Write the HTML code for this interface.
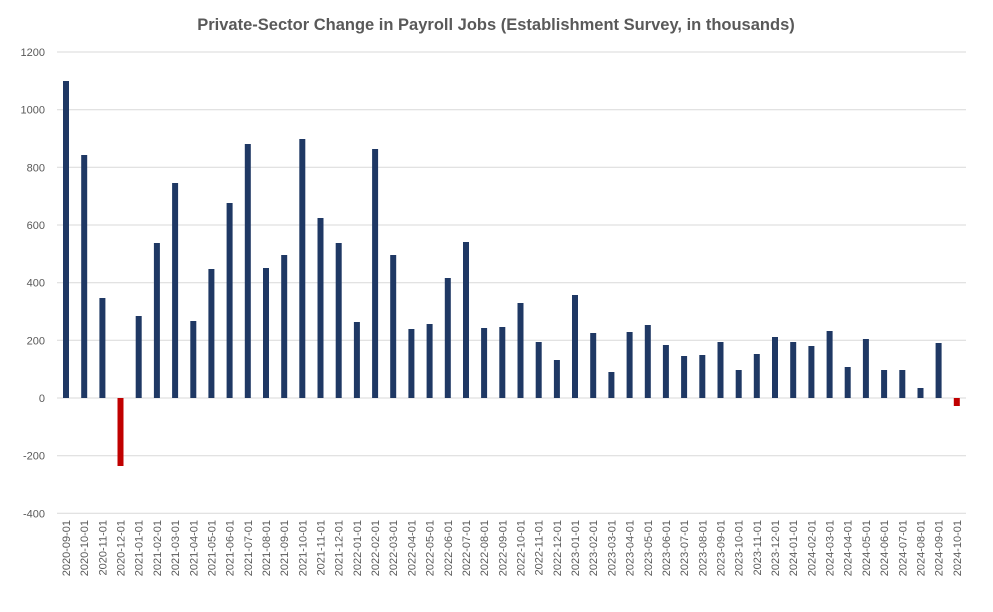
<!DOCTYPE html>
<html><head><meta charset="utf-8"><style>
html,body{margin:0;padding:0;background:#fff;}
svg text{font-family:"Liberation Sans",sans-serif;}
.y{font-size:11px;fill:#595959;text-anchor:end}
.x{font-size:11px;fill:#595959;text-anchor:end}
</style></head><body>
<svg width="993" height="607" xmlns="http://www.w3.org/2000/svg">
<rect width="993" height="607" fill="#fff"/>
<text x="496" y="30" text-anchor="middle" font-size="16.5" font-weight="bold" fill="#595959">Private-Sector Change in Payroll Jobs (Establishment Survey, in thousands)</text>
<g stroke="#d9d9d9" stroke-width="1">
<line x1="57" x2="966" y1="513.3" y2="513.3"/>
<line x1="57" x2="966" y1="455.7" y2="455.7"/>
<line x1="57" x2="966" y1="398" y2="398"/>
<line x1="57" x2="966" y1="340.3" y2="340.3"/>
<line x1="57" x2="966" y1="282.7" y2="282.7"/>
<line x1="57" x2="966" y1="225" y2="225"/>
<line x1="57" x2="966" y1="167.3" y2="167.3"/>
<line x1="57" x2="966" y1="109.7" y2="109.7"/>
<line x1="57" x2="966" y1="52" y2="52"/>
</g>
<text class="y" x="45" y="517.3">-400</text>
<text class="y" x="45" y="459.7">-200</text>
<text class="y" x="45" y="402">0</text>
<text class="y" x="45" y="344.3">200</text>
<text class="y" x="45" y="286.7">400</text>
<text class="y" x="45" y="229">600</text>
<text class="y" x="45" y="171.3">800</text>
<text class="y" x="45" y="113.7">1000</text>
<text class="y" x="45" y="56">1200</text>
<g fill="#1f3864">
<rect x="63.0" y="81" width="6" height="317"/>
<rect x="81.2" y="155" width="6" height="243"/>
<rect x="99.4" y="298" width="6" height="100"/>
<rect x="117.5" y="398" width="6" height="68" fill="#c00000"/>
<rect x="135.7" y="316" width="6" height="82"/>
<rect x="153.9" y="243" width="6" height="155"/>
<rect x="172.1" y="183" width="6" height="215"/>
<rect x="190.3" y="321" width="6" height="77"/>
<rect x="208.4" y="269" width="6" height="129"/>
<rect x="226.6" y="203" width="6" height="195"/>
<rect x="244.8" y="144" width="6" height="254"/>
<rect x="263.0" y="268" width="6" height="130"/>
<rect x="281.2" y="255" width="6" height="143"/>
<rect x="299.3" y="139" width="6" height="259"/>
<rect x="317.5" y="218" width="6" height="180"/>
<rect x="335.7" y="243" width="6" height="155"/>
<rect x="353.9" y="322" width="6" height="76"/>
<rect x="372.1" y="149" width="6" height="249"/>
<rect x="390.2" y="255" width="6" height="143"/>
<rect x="408.4" y="329" width="6" height="69"/>
<rect x="426.6" y="324" width="6" height="74"/>
<rect x="444.8" y="278" width="6" height="120"/>
<rect x="463.0" y="242" width="6" height="156"/>
<rect x="481.1" y="328" width="6" height="70"/>
<rect x="499.3" y="327" width="6" height="71"/>
<rect x="517.5" y="303" width="6" height="95"/>
<rect x="535.7" y="342" width="6" height="56"/>
<rect x="553.9" y="360" width="6" height="38"/>
<rect x="572.0" y="295" width="6" height="103"/>
<rect x="590.2" y="333" width="6" height="65"/>
<rect x="608.4" y="372" width="6" height="26"/>
<rect x="626.6" y="332" width="6" height="66"/>
<rect x="644.8" y="325" width="6" height="73"/>
<rect x="662.9" y="345" width="6" height="53"/>
<rect x="681.1" y="356" width="6" height="42"/>
<rect x="699.3" y="355" width="6" height="43"/>
<rect x="717.5" y="342" width="6" height="56"/>
<rect x="735.7" y="370" width="6" height="28"/>
<rect x="753.8" y="354" width="6" height="44"/>
<rect x="772.0" y="337" width="6" height="61"/>
<rect x="790.2" y="342" width="6" height="56"/>
<rect x="808.4" y="346" width="6" height="52"/>
<rect x="826.6" y="331" width="6" height="67"/>
<rect x="844.7" y="367" width="6" height="31"/>
<rect x="862.9" y="339" width="6" height="59"/>
<rect x="881.1" y="370" width="6" height="28"/>
<rect x="899.3" y="370" width="6" height="28"/>
<rect x="917.5" y="388" width="6" height="10"/>
<rect x="935.6" y="343" width="6" height="55"/>
<rect x="953.8" y="398" width="6" height="8" fill="#c00000"/>
</g>
<g>
<text class="x" transform="translate(70.0,520) rotate(-90)">2020-09-01</text>
<text class="x" transform="translate(88.2,520) rotate(-90)">2020-10-01</text>
<text class="x" transform="translate(106.4,520) rotate(-90)">2020-11-01</text>
<text class="x" transform="translate(124.5,520) rotate(-90)">2020-12-01</text>
<text class="x" transform="translate(142.7,520) rotate(-90)">2021-01-01</text>
<text class="x" transform="translate(160.9,520) rotate(-90)">2021-02-01</text>
<text class="x" transform="translate(179.1,520) rotate(-90)">2021-03-01</text>
<text class="x" transform="translate(197.3,520) rotate(-90)">2021-04-01</text>
<text class="x" transform="translate(215.4,520) rotate(-90)">2021-05-01</text>
<text class="x" transform="translate(233.6,520) rotate(-90)">2021-06-01</text>
<text class="x" transform="translate(251.8,520) rotate(-90)">2021-07-01</text>
<text class="x" transform="translate(270.0,520) rotate(-90)">2021-08-01</text>
<text class="x" transform="translate(288.2,520) rotate(-90)">2021-09-01</text>
<text class="x" transform="translate(306.3,520) rotate(-90)">2021-10-01</text>
<text class="x" transform="translate(324.5,520) rotate(-90)">2021-11-01</text>
<text class="x" transform="translate(342.7,520) rotate(-90)">2021-12-01</text>
<text class="x" transform="translate(360.9,520) rotate(-90)">2022-01-01</text>
<text class="x" transform="translate(379.1,520) rotate(-90)">2022-02-01</text>
<text class="x" transform="translate(397.2,520) rotate(-90)">2022-03-01</text>
<text class="x" transform="translate(415.4,520) rotate(-90)">2022-04-01</text>
<text class="x" transform="translate(433.6,520) rotate(-90)">2022-05-01</text>
<text class="x" transform="translate(451.8,520) rotate(-90)">2022-06-01</text>
<text class="x" transform="translate(470.0,520) rotate(-90)">2022-07-01</text>
<text class="x" transform="translate(488.1,520) rotate(-90)">2022-08-01</text>
<text class="x" transform="translate(506.3,520) rotate(-90)">2022-09-01</text>
<text class="x" transform="translate(524.5,520) rotate(-90)">2022-10-01</text>
<text class="x" transform="translate(542.7,520) rotate(-90)">2022-11-01</text>
<text class="x" transform="translate(560.9,520) rotate(-90)">2022-12-01</text>
<text class="x" transform="translate(579.0,520) rotate(-90)">2023-01-01</text>
<text class="x" transform="translate(597.2,520) rotate(-90)">2023-02-01</text>
<text class="x" transform="translate(615.4,520) rotate(-90)">2023-03-01</text>
<text class="x" transform="translate(633.6,520) rotate(-90)">2023-04-01</text>
<text class="x" transform="translate(651.8,520) rotate(-90)">2023-05-01</text>
<text class="x" transform="translate(669.9,520) rotate(-90)">2023-06-01</text>
<text class="x" transform="translate(688.1,520) rotate(-90)">2023-07-01</text>
<text class="x" transform="translate(706.3,520) rotate(-90)">2023-08-01</text>
<text class="x" transform="translate(724.5,520) rotate(-90)">2023-09-01</text>
<text class="x" transform="translate(742.7,520) rotate(-90)">2023-10-01</text>
<text class="x" transform="translate(760.8,520) rotate(-90)">2023-11-01</text>
<text class="x" transform="translate(779.0,520) rotate(-90)">2023-12-01</text>
<text class="x" transform="translate(797.2,520) rotate(-90)">2024-01-01</text>
<text class="x" transform="translate(815.4,520) rotate(-90)">2024-02-01</text>
<text class="x" transform="translate(833.6,520) rotate(-90)">2024-03-01</text>
<text class="x" transform="translate(851.7,520) rotate(-90)">2024-04-01</text>
<text class="x" transform="translate(869.9,520) rotate(-90)">2024-05-01</text>
<text class="x" transform="translate(888.1,520) rotate(-90)">2024-06-01</text>
<text class="x" transform="translate(906.3,520) rotate(-90)">2024-07-01</text>
<text class="x" transform="translate(924.5,520) rotate(-90)">2024-08-01</text>
<text class="x" transform="translate(942.6,520) rotate(-90)">2024-09-01</text>
<text class="x" transform="translate(960.8,520) rotate(-90)">2024-10-01</text>
</g>
</svg>
</body></html>
